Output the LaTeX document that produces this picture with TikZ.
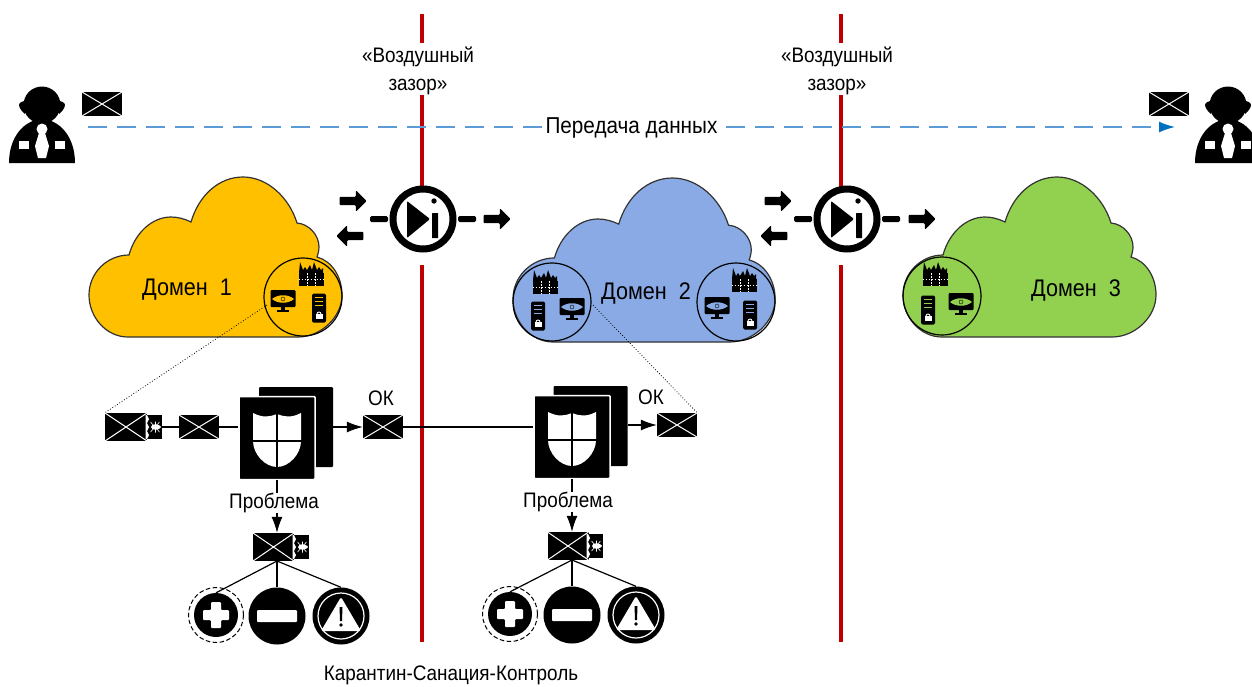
\documentclass[tikz,border=0pt]{standalone}
\usepackage{fontspec}
\setmainfont[FakeStretch=0.9]{Liberation Sans}
\usetikzlibrary{shapes.arrows,arrows.meta}
\definecolor{redline}{HTML}{C00000}
\definecolor{goldfill}{HTML}{FFC000}
\definecolor{bluefill}{HTML}{8AAAE5}
\definecolor{greenfill}{HTML}{92D050}
\definecolor{dataline}{HTML}{5B9BD5}
\definecolor{datatip}{HTML}{0070C0}
\begin{document}
\begin{tikzpicture}
[x=1pt,y=-1pt,font=\fontsize{21}{28}\selectfont,
  mailnode/.style={shape=rectangle,fill=black,inner sep=0pt,minimum width=40pt,minimum height=24pt,
    path picture={\draw[white,line width=1pt] (path picture bounding box.north west) -- (path picture bounding box.south east)
    (path picture bounding box.south west) -- (path picture bounding box.north east);}},
  bugnode/.style={shape=rectangle,fill=black,inner sep=0pt,minimum width=15pt,minimum height=24pt},
  docfront/.style={shape=rectangle,fill=black,draw=white,line width=1.5pt,rounded corners=1pt,inner sep=0pt,minimum width=76pt,minimum height=83pt},
  docback/.style={shape=rectangle,fill=black,rounded corners=1pt,inner sep=0pt,minimum width=74pt,minimum height=80pt},
  insetnode/.style={shape=circle,draw=black,line width=1.2pt,inner sep=0pt,minimum size=78pt},
  diodenode/.style={shape=circle,draw=black,fill=white,line width=7pt,inner sep=0pt,minimum size=60pt},
  barnode/.style={shape=rectangle,fill=black,rounded corners=1.5pt,inner sep=0pt,minimum width=18pt,minimum height=6pt},
  blocknode/.style={shape=single arrow,fill=black,rounded corners=1pt,inner sep=4pt,minimum height=27pt,single arrow head extend=6.5pt,single arrow head indent=0pt},
  plusnode/.style={shape=circle,fill=black,inner sep=0pt,minimum size=44pt},
  minusnode/.style={shape=circle,fill=black,inner sep=0pt,minimum size=57pt},
  warnnode/.style={shape=circle,fill=black,inner sep=0pt,minimum size=57pt},
  textdecorate/.style={inner sep=0pt,align=center},
  clouddecorate/.style={inner sep=0pt,font=\fontsize{24}{28}\selectfont},
  labeldecorate/.style={fill=white,inner xsep=1pt,inner ysep=0pt,yshift=-1pt},
  redlinedecorate/.style={draw=redline,line width=4pt},
  arrowdecorate/.style={draw=black,line width=1.2pt,-{Latex[length=16pt,width=11pt]}},
  linedecorate/.style={draw=black,line width=1.2pt},
  dotdecorate/.style={draw=black,line width=0.8pt,dotted},
  dataarrow/.style={draw=dataline,line width=1.5pt,dash pattern=on 19pt off 10pt,-{Latex[length=16pt,width=11pt,color=datatip]}},
  pics/cloudicon/.style={code={
    \path[fill=#1,draw=black!80,line width=1.2pt] (39,160) .. controls (17,160) and (0,140) .. (0,118)
    .. controls (0,96) and (18,78) .. (40,78) .. controls (46,56) and (63,40) .. (82,40)
    .. controls (89,40) and (96,42) .. (102,45) .. controls (110,18) and (130,0) .. (154,0)
    .. controls (178,0) and (200,20) .. (208,46) .. controls (220,47) and (230,58) .. (230,70)
    .. controls (230,73) and (229,77) .. (228,80) .. controls (243,84) and (253,100) .. (253,118)
    .. controls (253,140) and (232,160) .. (209,160) -- cycle;}},
  pics/personicon/.style={code={
    \fill (-33,36) .. controls (-33,10) and (-18,-7) .. (0,-8) .. controls (18,-7) and (33,10) .. (33,36) -- cycle;
    \fill (0,-22) circle (18.5);
    \fill (-23,-22) .. controls (-23,-25) and (-18,-26) .. (-17,-26) -- (-17,-13) .. controls (-18,-14) and (-23,-18) .. (-23,-22) -- cycle;
    \fill (23,-22) .. controls (23,-25) and (18,-26) .. (17,-26) -- (17,-13) .. controls (18,-14) and (23,-18) .. (23,-22) -- cycle;
    \fill[white] (0,2) circle (5.5);
    \fill[white] (-3,6) -- (3,6) -- (7,19) -- (4,31) -- (-4,31) -- (-7,19) -- cycle;
    \fill[white] (-23,14) rectangle (-13,22);
    \fill[white] (13,14) rectangle (23,22);}},
  pics/firewallicon/.style={code={
    \fill (-12,-1) -- (-11,-12) -- (-8,-4) -- (-6,-7) -- (-4,-4) -- (-1,-9) -- (1,-4) -- (3,-12) -- (6,-4) -- (8,-7) -- (10,-4) -- (12,-6) -- (12,-1) -- cycle;
    \fill (-12.5,-1) rectangle (12.5,12);
    \draw[white,line width=0.5pt,dash pattern=on 1.5pt off 1.5pt] (-4,-1) -- (-4,12) (4,-1) -- (4,12) (-12.5,5.5) -- (12.5,5.5);}},
  pics/monitoricon/.style={code={
    \fill[rounded corners=1pt] (-12.5,-10) rectangle (12.5,7);
    \fill (-2,7) rectangle (2,10);
    \fill (-6,10) rectangle (6,11.5);
    \fill[#1] (-11,-1) .. controls (-5,-6) and (5,-6) .. (11,-1) .. controls (5,4) and (-5,4) .. (-11,-1) -- cycle;
    \draw (0,-1) circle (2);}},
  pics/servericon/.style={code={
    \fill[rounded corners=1.5pt] (-7,-14.5) rectangle (7,14.5);
    \draw[#1,line width=0.7pt] (-4,-11) -- (4,-11) (-4,-7) -- (4,-7) (-4,-3) -- (4,-3);
    \fill[white] (-3.5,6) rectangle (3.5,11);
    \draw[white,line width=0.9pt] (-2,6) arc[start angle=180,end angle=360,radius=2];}},
  pics/shieldicon/.style={code={
    \fill[white] (-24,-25) .. controls (-14,-20) and (-8,-21) .. (0,-24) .. controls (8,-21) and (14,-20) .. (24,-25)
    -- (24,3) .. controls (24,16) and (12,29) .. (0,29) .. controls (-12,29) and (-24,16) .. (-24,3) -- cycle;
    \draw[black,line width=2pt] (0,-28) -- (0,30) (-26,3) -- (26,3);}},
  pics/bugicon/.style={code={
    \fill[white] (-7.5,-12) -- (-5.5,-8) -- (-7.5,-4) -- (-5.5,0) -- (-7.5,4) -- (-5.5,8) -- (-7.5,12) -- (-9,12) -- (-9,-12) -- cycle;
    \fill[white] (1,0) ellipse (4.5 and 2.8);
    \fill[white] (5,0) circle (1.6);
    \draw[white,line width=0.6pt] (-4,-5) -- (5,5) (-4,5) -- (5,-5) (1,-5.5) -- (1,5.5);}},
  pics/plusicon/.style={code={
    \draw[black,line width=1pt,dash pattern=on 4.5pt off 2.5pt] (0,0) circle (27.5);
    \fill[white,rounded corners=1pt] (-13,-5) -- (-5,-5) -- (-5,-13) -- (5,-13) -- (5,-5) -- (13,-5) -- (13,5) -- (5,5) -- (5,13) -- (-5,13) -- (-5,5) -- (-13,5) -- cycle;}},
  pics/warnicon/.style={code={
    \draw[white,line width=1.2pt] (0,0) circle (23);
    \fill[white,rounded corners=1.5pt] (0,-19) -- (20,15) -- (-20,15) -- cycle;
    \fill (-1.5,-9) -- (1.5,-9) -- (1,5) -- (-1,5) -- cycle;
    \fill (0,9) circle (1.8);}}]
\clip (0,0) rectangle (1252,686);
% barriers
\coordinate (bar1top) at (422,14);
\coordinate (bar1cut) at (422,43);
\coordinate (bar1mid) at (422,95);
\coordinate (bar1arc) at (422,188);
\coordinate (bar1low) at (422,265);
\coordinate (bar1end) at (422,642);
\coordinate (bar2top) at (841,14);
\coordinate (bar2cut) at (841,43);
\coordinate (bar2mid) at (841,95);
\coordinate (bar2arc) at (841,188);
\coordinate (bar2low) at (841,265);
\coordinate (bar2end) at (841,642);
\path[redlinedecorate] (bar1top) -- (bar1cut) (bar1mid) -- (bar1arc) (bar1low) -- (bar1end);
\path[redlinedecorate] (bar2top) -- (bar2cut) (bar2mid) -- (bar2arc) (bar2low) -- (bar2end);
\node (gap1) at (418,71) [textdecorate] {«Воздушный\\зазор»};
\node (gap2) at (837,71) [textdecorate] {«Воздушный\\зазор»};
% people and data path
\pic at (42,127) {personicon};
\pic at (1228,127) {personicon};
\node (mailleft) at (102,104) [mailnode] {};
\node (mailright) at (1169,104) [mailnode] {};
\coordinate (datastart) at (88,127);
\coordinate (dataend) at (1175,127);
\path (datastart) edge[dataarrow] node[labeldecorate,font=\fontsize{23}{28}\selectfont]{Передача данных} (dataend);
% clouds
\pic at (89,177) {cloudicon=goldfill};
\pic[xscale=1.036,yscale=1.025] at (513,178) {cloudicon=bluefill};
\pic at (903,177) {cloudicon=greenfill};
\node (dom1) at (187,290) [clouddecorate] {Домен\ \ 1};
\node (dom2) at (646,294) [clouddecorate] {Домен\ \ 2};
\node (dom3) at (1076,291) [clouddecorate] {Домен\ \ 3};
% insets
\node (inset1) at (303,297) [insetnode] {};
\node (inset2) at (552,302) [insetnode] {};
\node (inset3) at (736,302) [insetnode] {};
\node (inset4) at (942,296) [insetnode] {};
\pic at ([shift={(8,-23)}]inset1.center) {firewallicon};
\pic at ([shift={(-20,3)}]inset1.center) {monitoricon=goldfill};
\pic at ([shift={(16,11)}]inset1.center) {servericon=goldfill};
\pic at ([shift={(-7,-20)}]inset2.center) {firewallicon};
\pic at ([shift={(20,6)}]inset2.center) {monitoricon=bluefill};
\pic at ([shift={(-14,14)}]inset2.center) {servericon=bluefill};
\pic at ([shift={(8,-22)}]inset3.center) {firewallicon};
\pic at ([shift={(-19,5)}]inset3.center) {monitoricon=bluefill};
\pic at ([shift={(14,13)}]inset3.center) {servericon=bluefill};
\pic at ([shift={(-7,-22)}]inset4.center) {firewallicon};
\pic at ([shift={(19,7)}]inset4.center) {monitoricon=greenfill};
\pic at ([shift={(-14,14)}]inset4.center) {servericon=greenfill};
% diodes
\node (diode1) at (423,219) [diodenode] {};
\node (diode2) at (847,219) [diodenode] {};
\fill[rounded corners=1pt] (407,201) -- (430,219) -- (407,238) -- cycle;
\fill[rounded corners=1pt] (831,201) -- (854,219) -- (831,238) -- cycle;
\fill[rounded corners=0.5pt] (432,213) rectangle (438,238);
\fill[rounded corners=0.5pt] (856,213) rectangle (862,238);
\fill (434,201) circle (2.7);
\fill (858,201) circle (2.7);
\node (bar1l) at (379,219) [barnode] {};
\node (bar1r) at (467,219) [barnode] {};
\node (bar2l) at (803,219) [barnode] {};
\node (bar2r) at (891,219) [barnode] {};
\node (arr1a) at (351,201) [blocknode] {};
\node (arr1b) at (352,236) [blocknode,shape border rotate=180] {};
\node (arr1c) at (495,219) [blocknode] {};
\node (arr2a) at (776,201) [blocknode] {};
\node (arr2b) at (776,236) [blocknode,shape border rotate=180] {};
\node (arr2c) at (920,219) [blocknode] {};
% first check
\node (mail1) at (126,427) [mailnode,minimum width=42pt,minimum height=28pt] {};
\node (bug1) at (154.5,427) [bugnode] {};
\pic at (bug1) {bugicon};
\node (mail2) at (199,427) [mailnode] {};
\node (doc1back) at (296,427) [docback] {};
\node (doc1) at (277,438) [docfront] {};
\pic at (doc1) {shieldicon};
\node (mail3) at (383,427) [mailnode] {};
\node (ok1) at (381,398) [textdecorate] {ОК};
\node (mail5) at (273.5,547) [mailnode,minimum width=41pt,minimum height=28pt] {};
\node (bug3) at (301.5,547) [bugnode] {};
\pic at (bug3) {bugicon};
\node (plus1) at (216,615) [plusnode] {};
\pic at (plus1) {plusicon};
\node (minus1) at (277,616) [minusnode] {};
\fill[white,rounded corners=1pt] (257,610) rectangle (297,622);
\node (warn1) at (341,616) [warnnode] {};
\pic at (warn1) {warnicon};
% second check
\node (doc2back) at (590.5,426) [docback] {};
\node (doc2) at (572,437) [docfront] {};
\pic at (doc2) {shieldicon};
\node (mail4) at (677,425) [mailnode] {};
\node (ok2) at (651,397) [textdecorate] {ОК};
\node (mail6) at (568,546) [mailnode,minimum width=41pt,minimum height=28pt] {};
\node (bug4) at (595.5,546) [bugnode] {};
\pic at (bug4) {bugicon};
\node (plus2) at (510,614) [plusnode] {};
\pic at (plus2) {plusicon};
\node (minus2) at (572,615) [minusnode] {};
\fill[white,rounded corners=1pt] (552,609) rectangle (592,621);
\node (warn2) at (636,615) [warnnode] {};
\pic at (warn2) {warnicon};
% edges or lines
\coordinate (tap1) at (267,305);
\coordinate (tap2) at (593,305);
\coordinate (mail5base) at (277,561);
\coordinate (mail6base) at (572,560);
\path[dotdecorate] (tap1) -- (mail1.north west);
\path[dotdecorate] (tap2) -- (mail4.north east);
\path
(bug1) edge[linedecorate] (mail2)
(mail2) edge[linedecorate] (mail2 -| doc1.west)
(doc1back.east |- mail3) edge[arrowdecorate] (mail3)
(mail3) edge[linedecorate] (mail3 -| doc2.west)
(doc2back.east |- mail4) edge[arrowdecorate] (mail4)
(doc1.south -| mail5base) edge[arrowdecorate] node[labeldecorate,xshift=-3pt,pos=0.42]{Проблема} (mail5.north -| mail5base)
(doc2.south -| mail6base) edge[arrowdecorate] node[labeldecorate,xshift=-4pt,pos=0.42]{Проблема} (mail6.north -| mail6base)
(mail5base) edge[linedecorate] (plus1.north)
(mail5base) edge[linedecorate] (minus1.north)
(mail5base) edge[linedecorate] (warn1.north)
(mail6base) edge[linedecorate] (plus2.north)
(mail6base) edge[linedecorate] (minus2.north)
(mail6base) edge[linedecorate] (warn2.north);
\node (caption) at (451,675) [textdecorate] {Карантин-Санация-Контроль};
\end{tikzpicture}
\end{document}
